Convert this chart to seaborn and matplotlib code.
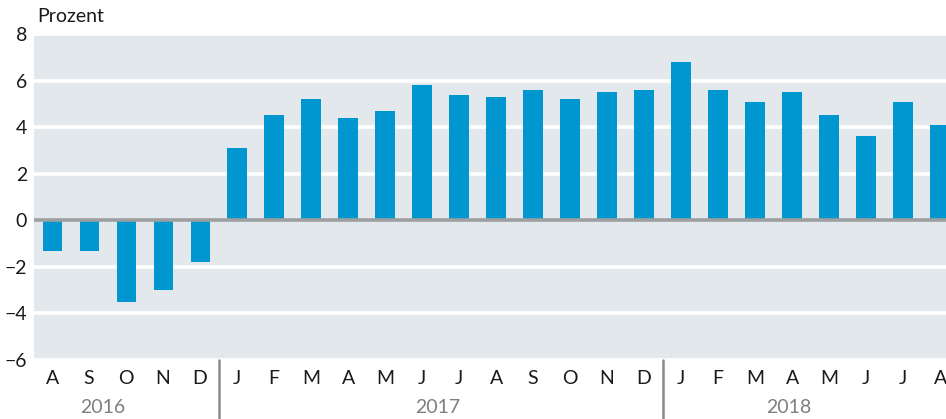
import numpy as np
import pandas as pd
import matplotlib
matplotlib.use("Agg")
import matplotlib.pyplot as plt
import seaborn as sns

# monthly values, Aug 2016 - Aug 2018 (Prozent)
months = ["A", "S", "O", "N", "D",
          "J", "F", "M", "A", "M", "J", "J", "A", "S", "O", "N", "D",
          "J", "F", "M", "A", "M", "J", "J", "A"]
years = [2016] * 5 + [2017] * 12 + [2018] * 8
values = [-1.3, -1.3, -3.5, -3.0, -1.8,
          3.1, 4.5, 5.2, 4.4, 4.7, 5.8, 5.4, 5.3, 5.6, 5.2, 5.5, 5.6,
          6.8, 5.6, 5.1, 5.5, 4.5, 3.6, 5.1, 4.1]
year_labels = ["2016", "2017", "2018"]

BAR = "#0096cf"
BG = "#e3e8ec"
FS = 14

sns.set_theme(style="white")
plt.rcParams["font.family"] = ["Lato", "DejaVu Sans"]

df = pd.DataFrame({"month": months, "year": years, "value": values})
df["key"] = [f"{y}-{i}" for i, y in enumerate(df["year"])]

fig = plt.figure(figsize=(9.46, 4.19), dpi=100)
ax = fig.add_axes([34 / 946, 1 - 360 / 419, 1 - 34 / 946, 326 / 419])
ax.set_facecolor(BG)

for y in range(-6, 9, 2):
    if y != 0:
        ax.axhline(y, color="white", lw=2.6, zorder=1)

sns.barplot(data=df, x="key", y="value", color=BAR, saturation=1,
            width=0.52, linewidth=0, ax=ax, zorder=3)
ax.axhline(0, color="#9d9fa1", lw=2.6, zorder=4)

ax.set_xlim(-0.49, len(df) - 0.84)
ax.set_ylim(-6, 8)
ax.set_yticks(range(-6, 9, 2))
ax.set_yticklabels([str(t).replace("-", "\u2212") for t in range(-6, 9, 2)],
                   fontsize=FS, color="#1a1a1a")
ax.set_xticks(range(len(df)))
ax.set_xticklabels(df["month"], fontsize=FS, color="#1a1a1a")
ax.tick_params(axis="x", length=0, pad=7)
ax.tick_params(axis="y", length=0, pad=5)
ax.set_xlabel("")
ax.set_ylabel("")
for s in ax.spines.values():
    s.set_visible(False)

# year separators and year labels under the month axis
trans = ax.get_xaxis_transform()
for sep in [4.5, 16.5]:
    ax.plot([sep, sep], [0, -0.19], transform=trans, color="#8a8a8a",
            lw=1.8, clip_on=False)
for lab, xpos in zip(year_labels, [1.38, 10.43, 19.9]):
    ax.text(xpos, -0.145, lab, transform=trans, ha="center", va="center",
            fontsize=FS, color="#7f7f7f")

fig.text(37 / 946, 1 - 17 / 419, "Prozent", ha="left", va="center",
         fontsize=FS, color="#1a1a1a")

fig.savefig("out.png", dpi=100)
